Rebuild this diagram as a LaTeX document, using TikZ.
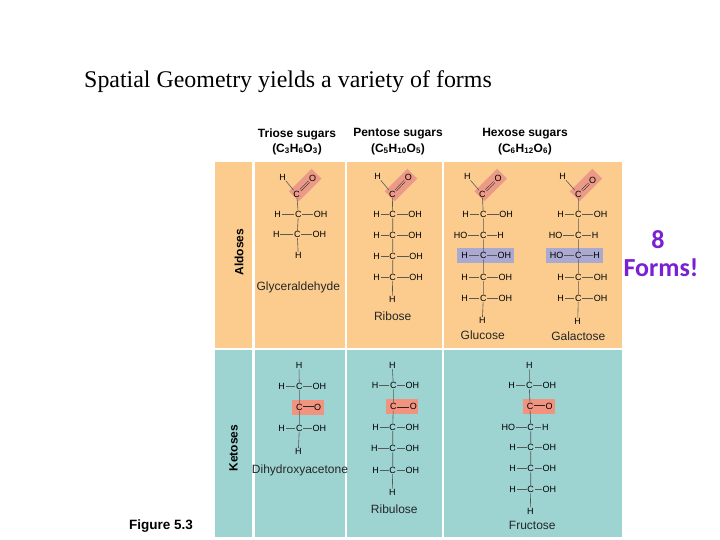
\documentclass[tikz,border=0pt]{standalone}
\usepackage{fontspec}
\setmainfont{Liberation Serif}
\setsansfont{Liberation Sans}
\newfontfamily\shoutface{Carlito}
\usepackage{tikz}
\usetikzlibrary{shapes,positioning}

\definecolor{Sand}{HTML}{FBCC8E}
\definecolor{Teal}{HTML}{9DD4D2}
\definecolor{Rose}{HTML}{EC9A88}
\definecolor{Salmon}{HTML}{F2937F}
\definecolor{Lilac}{HTML}{A9A9D2}
\definecolor{Violet}{HTML}{7A1FD2}

\begin{document}
\begin{tikzpicture}[x=1pt, y=-1pt]
	\tikzstyle{Atom}	= [inner sep=0.4pt, font=\sffamily\fontsize{9}{9}\selectfont]
	\tikzstyle{Bond}	= [line width=0.6pt, black!65]
	\tikzstyle{Dbl}		= [line width=0.5pt, double=Rose, double distance=1.2pt, black!85]
	\tikzstyle{Name}	= [font=\sffamily\fontsize{12}{12}\selectfont, black!85]
	\tikzstyle{Head}	= [font=\sffamily\bfseries\fontsize{12}{12}\selectfont]
	\tikzstyle{Side}	= [font=\sffamily\bfseries\fontsize{12}{12}\selectfont, rotate=90]
	\tikzstyle{Tilted}	= [rectangle, fill=Rose, minimum width=32pt, minimum height=14pt, inner sep=0pt, rotate=45]
	\tikzstyle{Flat}	= [rectangle, fill=Salmon, minimum width=32pt, minimum height=15pt, inner sep=0pt]
	\tikzstyle{Band}	= [rectangle, fill=Lilac, minimum width=57pt, minimum height=15pt, inner sep=0pt]
	\tikzstyle{Shout}	= [font=\shoutface\bfseries\fontsize{26}{26}\selectfont, Violet]
	
	\useasboundingbox (0, 0) rectangle (720, 540);
	
	% panels
	\fill [Sand] (215, 162) rectangle (252, 348);
	\fill [Sand] (255, 162) rectangle (345, 348);
	\fill [Sand] (347, 162) rectangle (442, 348);
	\fill [Sand] (444, 162) rectangle (622, 348);
	\fill [Teal] (215, 350) rectangle (252, 537);
	\fill [Teal] (255, 350) rectangle (345, 537);
	\fill [Teal] (347, 350) rectangle (442, 537);
	\fill [Teal] (444, 350) rectangle (622, 537);
	
	% texts
	\node (title) at (288, 82) [font=\fontsize{23.9}{24}\selectfont] {Spatial Geometry yields a variety of forms};
	\node (fig) at (161, 526) [font=\sffamily\bfseries\fontsize{13.5}{14}\selectfont] {Figure 5.3};
	\node (tri) at (297, 134) [Head] {Triose sugars};
	\node (trif) at (297, 149) [Head] {(C\textsubscript{3}H\textsubscript{6}O\textsubscript{3})};
	\node (pen) at (398, 134) [Head] {Pentose sugars};
	\node (penf) at (398, 149) [Head] {(C\textsubscript{5}H\textsubscript{10}O\textsubscript{5})};
	\node (hex) at (525, 134) [Head] {Hexose sugars};
	\node (hexf) at (525, 149) [Head] {(C\textsubscript{6}H\textsubscript{12}O\textsubscript{6})};
	\node (ald) at (239, 252) [Side] {Aldoses};
	\node (ket) at (233.5, 448) [Side] {Ketoses};
	\node (eight) at (658, 240) [Shout] {8};
	\node (forms) at (661, 268) [Shout] {Forms!};
	
	% highlights
	\node (glyBox) at (305.3, 185) [Tilted] {};
	\node (ribBox) at (401, 185) [Tilted] {};
	\node (gluBox) at (490.7, 185) [Tilted] {};
	\node (galBox) at (586, 185) [Tilted] {};
	\node (gluBand) at (485.5, 255.7) [Band] {};
	\node (galBand) at (574, 255.7) [Band] {};
	\node (dhaBox) at (308.2, 407.5) [Flat] {};
	\node (rblBox) at (401.8, 406.8) [Flat] {};
	\node (froBox) at (538.5, 406.7) [Flat] {};
	
	% glyceraldehyde
	\node (g1) at (282.7, 177) [Atom] {H};
	\node (g2) at (312.7, 178) [Atom] {O};
	\node (g3) at (296.7, 194) [Atom] {C};
	\node (g4) at (277.7, 214) [Atom] {H};
	\node (g5) at (298.3, 214) [Atom] {C};
	\node (g6) at (320.7, 214) [Atom] {OH};
	\node (g7) at (276.3, 234.7) [Atom] {H};
	\node (g8) at (297.3, 234.7) [Atom] {C};
	\node (g9) at (319.3, 234.7) [Atom] {OH};
	\node (g10) at (298.3, 255.7) [Atom] {H};
	\node (gname) at (298.3, 287.7) [Name] {Glyceraldehyde};
	
	\draw [Bond] (g1) to (g3);
	\draw [Dbl] (g3) to (g2);
	\draw [Bond] (g3) to (g5) to (g8) to (g10);
	\draw [Bond] (g4) to (g5) to (g6);
	\draw [Bond] (g7) to (g8) to (g9);
	
	% ribose
	\node (r1) at (377.7, 176.7) [Atom] {H};
	\node (r2) at (408.3, 177.3) [Atom] {O};
	\node (r3) at (392.3, 194) [Atom] {C};
	\node (r4) at (376.7, 214.7) [Atom] {H};
	\node (r5) at (392.7, 214.7) [Atom] {C};
	\node (r6) at (415, 214.7) [Atom] {OH};
	\node (r7) at (376.7, 235.3) [Atom] {H};
	\node (r8) at (392.7, 235.3) [Atom] {C};
	\node (r9) at (415, 235.3) [Atom] {OH};
	\node (r10) at (376.7, 256) [Atom] {H};
	\node (r11) at (392.7, 256) [Atom] {C};
	\node (r12) at (416, 256) [Atom] {OH};
	\node (r13) at (376.7, 277.3) [Atom] {H};
	\node (r14) at (392.7, 277.3) [Atom] {C};
	\node (r15) at (416, 277.3) [Atom] {OH};
	\node (r16) at (392.3, 299.3) [Atom] {H};
	\node (rname) at (392.7, 316.7) [Name] {Ribose};
	
	\draw [Bond] (r1) to (r3);
	\draw [Dbl] (r3) to (r2);
	\draw [Bond] (r3) to (r5) to (r8) to (r11) to (r14) to (r16);
	\draw [Bond] (r4) to (r5) to (r6);
	\draw [Bond] (r7) to (r8) to (r9);
	\draw [Bond] (r10) to (r11) to (r12);
	\draw [Bond] (r13) to (r14) to (r15);
	
	% glucose
	\node (u1) at (467.3, 176.7) [Atom] {H};
	\node (u2) at (498, 178.3) [Atom] {O};
	\node (u3) at (482.3, 194) [Atom] {C};
	\node (u4) at (465.7, 214.7) [Atom] {H};
	\node (u5) at (483.3, 214.7) [Atom] {C};
	\node (u6) at (506, 214.7) [Atom] {OH};
	\node (u7) at (460.7, 235.7) [Atom] {HO};
	\node (u8) at (483.3, 235.7) [Atom] {C};
	\node (u9) at (500.7, 235.7) [Atom] {H};
	\node (u10) at (464.7, 255.7) [Atom] {H};
	\node (u11) at (483.3, 255.7) [Atom] {C};
	\node (u12) at (504.3, 255.7) [Atom] {OH};
	\node (u13) at (464.7, 277.3) [Atom] {H};
	\node (u14) at (483.3, 277.3) [Atom] {C};
	\node (u15) at (505.3, 277.3) [Atom] {OH};
	\node (u16) at (464.7, 298.3) [Atom] {H};
	\node (u17) at (483.3, 298.3) [Atom] {C};
	\node (u18) at (505.3, 298.3) [Atom] {OH};
	\node (u19) at (482.3, 320.7) [Atom] {H};
	\node (uname) at (482.7, 335) [Name] {Glucose};
	
	\draw [Bond] (u1) to (u3);
	\draw [Dbl] (u3) to (u2);
	\draw [Bond] (u3) to (u5) to (u8) to (u11) to (u14) to (u17) to (u19);
	\draw [Bond] (u4) to (u5) to (u6);
	\draw [Bond] (u7) to (u8) to (u9);
	\draw [Bond] (u10) to (u11) to (u12);
	\draw [Bond] (u13) to (u14) to (u15);
	\draw [Bond] (u16) to (u17) to (u18);
	
	% galactose
	\node (a1) at (562.7, 176.7) [Atom] {H};
	\node (a2) at (592.7, 180) [Atom] {O};
	\node (a3) at (578.3, 194) [Atom] {C};
	\node (a4) at (560.7, 214.7) [Atom] {H};
	\node (a5) at (578.3, 214.7) [Atom] {C};
	\node (a6) at (600.7, 214.7) [Atom] {OH};
	\node (a7) at (555.7, 235.7) [Atom] {HO};
	\node (a8) at (578.3, 235.7) [Atom] {C};
	\node (a9) at (595, 235.7) [Atom] {H};
	\node (a10) at (556.7, 255.7) [Atom] {HO};
	\node (a11) at (578.3, 255.7) [Atom] {C};
	\node (a12) at (596.7, 255.7) [Atom] {H};
	\node (a13) at (560.7, 277.3) [Atom] {H};
	\node (a14) at (578.3, 277.3) [Atom] {C};
	\node (a15) at (600.7, 277.3) [Atom] {OH};
	\node (a16) at (560.7, 298.3) [Atom] {H};
	\node (a17) at (578.3, 298.3) [Atom] {C};
	\node (a18) at (600.7, 298.3) [Atom] {OH};
	\node (a19) at (577.7, 321.7) [Atom] {H};
	\node (aname) at (578.3, 336.7) [Name] {Galactose};
	
	\draw [Bond] (a1) to (a3);
	\draw [Dbl] (a3) to (a2);
	\draw [Bond] (a3) to (a5) to (a8) to (a11) to (a14) to (a17) to (a19);
	\draw [Bond] (a4) to (a5) to (a6);
	\draw [Bond] (a7) to (a8) to (a9);
	\draw [Bond] (a10) to (a11) to (a12);
	\draw [Bond] (a13) to (a14) to (a15);
	\draw [Bond] (a16) to (a17) to (a18);
	
	% dihydroxyacetone
	\node (d1) at (299, 365.7) [Atom] {H};
	\node (d2) at (281.7, 386.3) [Atom] {H};
	\node (d3) at (299.3, 386.3) [Atom] {C};
	\node (d4) at (319.3, 386.3) [Atom] {OH};
	\node (d5) at (299.3, 407.3) [Atom] {C};
	\node (d6) at (317.7, 407.3) [Atom] {O};
	\node (d7) at (281.7, 428.3) [Atom] {H};
	\node (d8) at (299.3, 428.3) [Atom] {C};
	\node (d9) at (319.3, 428.3) [Atom] {OH};
	\node (d10) at (298.3, 451.7) [Atom] {H};
	\node (dname) at (300, 470) [Name] {Dihydroxyacetone};
	
	\draw [Bond] (d1) to (d3) to (d5) to (d8) to (d10);
	\draw [Bond] (d2) to (d3) to (d4);
	\draw [Dbl, double=Salmon] (d5) to (d6);
	\draw [Bond] (d7) to (d8) to (d9);
	
	% ribulose
	\node (b1) at (392.3, 365.7) [Atom] {H};
	\node (b2) at (375, 385.7) [Atom] {H};
	\node (b3) at (393.3, 385.7) [Atom] {C};
	\node (b4) at (412.3, 385.7) [Atom] {OH};
	\node (b5) at (393.3, 406.7) [Atom] {C};
	\node (b6) at (413.3, 406.7) [Atom] {O};
	\node (b7) at (375.7, 427.3) [Atom] {H};
	\node (b8) at (392.7, 427.3) [Atom] {C};
	\node (b9) at (412.3, 427.3) [Atom] {OH};
	\node (b10) at (374.3, 448.7) [Atom] {H};
	\node (b11) at (392.7, 448.7) [Atom] {C};
	\node (b12) at (412.3, 448.7) [Atom] {OH};
	\node (b13) at (375.7, 470.3) [Atom] {H};
	\node (b14) at (392.7, 470.3) [Atom] {C};
	\node (b15) at (412.3, 470.3) [Atom] {OH};
	\node (b16) at (392.3, 492.3) [Atom] {H};
	\node (bname) at (394.3, 509.7) [Name] {Ribulose};
	
	\draw [Bond] (b1) to (b3) to (b5) to (b8) to (b11) to (b14) to (b16);
	\draw [Bond] (b2) to (b3) to (b4);
	\draw [Dbl, double=Salmon] (b5) to (b6);
	\draw [Bond] (b7) to (b8) to (b9);
	\draw [Bond] (b10) to (b11) to (b12);
	\draw [Bond] (b13) to (b14) to (b15);
	
	% fructose
	\node (f1) at (529.3, 365.7) [Atom] {H};
	\node (f2) at (511.7, 385.7) [Atom] {H};
	\node (f3) at (529.3, 385.7) [Atom] {C};
	\node (f4) at (549.3, 385.7) [Atom] {OH};
	\node (f5) at (530, 406.3) [Atom] {C};
	\node (f6) at (549, 406.3) [Atom] {O};
	\node (f7) at (508.3, 427.7) [Atom] {HO};
	\node (f8) at (530.7, 427.7) [Atom] {C};
	\node (f9) at (545.3, 427.7) [Atom] {H};
	\node (f10) at (512.7, 447.7) [Atom] {H};
	\node (f11) at (530.7, 447.7) [Atom] {C};
	\node (f12) at (549.3, 447.7) [Atom] {OH};
	\node (f13) at (512.7, 468.7) [Atom] {H};
	\node (f14) at (530.7, 468.7) [Atom] {C};
	\node (f15) at (549.3, 468.7) [Atom] {OH};
	\node (f16) at (512.7, 489.7) [Atom] {H};
	\node (f17) at (530.7, 489.7) [Atom] {C};
	\node (f18) at (549.3, 489.7) [Atom] {OH};
	\node (f19) at (530.3, 511) [Atom] {H};
	\node (fname) at (532.3, 525) [Name] {Fructose};
	
	\draw [Bond] (f1) to (f3) to (f5) to (f8) to (f11) to (f14) to (f17) to (f19);
	\draw [Bond] (f2) to (f3) to (f4);
	\draw [Dbl, double=Salmon] (f5) to (f6);
	\draw [Bond] (f7) to (f8) to (f9);
	\draw [Bond] (f10) to (f11) to (f12);
	\draw [Bond] (f13) to (f14) to (f15);
	\draw [Bond] (f16) to (f17) to (f18);
\end{tikzpicture}
\end{document}
